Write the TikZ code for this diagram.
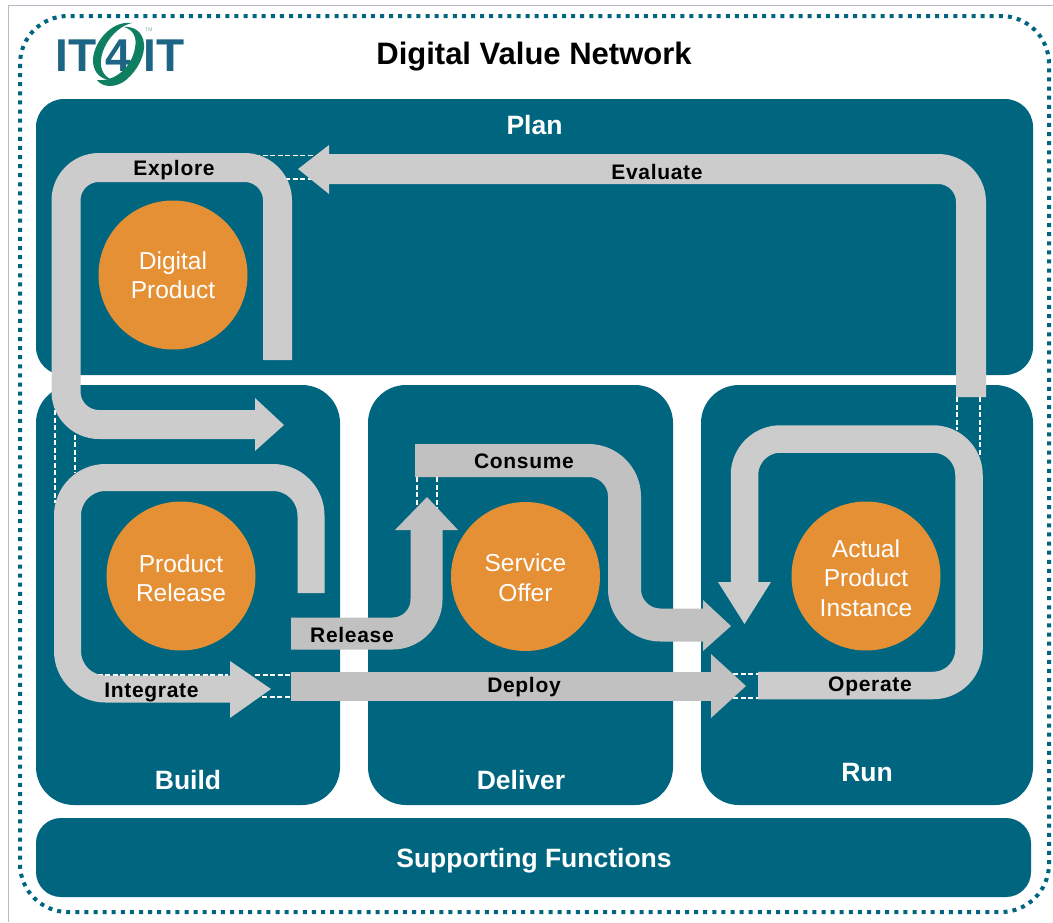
\documentclass[tikz,border=0pt]{standalone}
\usepackage{fontspec}
\setmainfont{Liberation Sans}
\newfontfamily\trackedbold[LetterSpace=3.3]{Liberation Sans Bold}
\newcommand{\lowerby}[2]{\raisebox{-#1}[\height][\depth]{#2}}
\definecolor{teal}{HTML}{00667F}
\definecolor{orng}{HTML}{E59035}
\definecolor{lgray}{HTML}{CCCCCC}
\definecolor{mgray}{HTML}{C1C1C1}
\definecolor{lgreen}{HTML}{0F7F62}
\definecolor{lblue}{HTML}{1C6585}
\definecolor{frame}{HTML}{B9B9C6}
\tikzset{
 panel/.style={fill=teal,draw=none},
 disc/.style={circle,fill=orng,draw=none,minimum size=149pt,inner sep=0pt,text=white,align=center,font=\fontsize{24.5}{29.5}\selectfont},
 band/.style={draw=#1,line join=round},
 head/.style={fill=#1,draw=none},
 flowlabel/.style={font=\fontsize{21}{25}\trackedbold\selectfont,text=black,inner sep=0pt},
 paneltitle/.style={font=\fontsize{26.5}{32}\selectfont\bfseries,text=white,inner sep=0pt},
 whitedash/.style={draw=white,line width=1.2pt,dash pattern=on 5pt off 2.5pt},
}
\begin{document}
\begin{tikzpicture}[x=1pt,y=-1pt]
\useasboundingbox (0,0) rectangle (1053,922);
\fill[white] (0,0) rectangle (1053,922);
\draw[frame,line width=1pt] (8,922) -- (8,5) -- (1053,5);
\draw[teal,line width=4pt,dash pattern=on 4pt off 5.1pt,rounded corners=48pt] (20,16) rectangle (1049,912);
% logo
\node[inner sep=0pt,text=lblue,font=\fontsize{46}{46}\selectfont\bfseries] (logoa) at (76,55.5) {IT};
\node[inner sep=0pt,text=lblue,font=\fontsize{46}{46}\selectfont\bfseries] (logob) at (164,55.5) {IT};
\node[inner sep=0pt,text=lblue,font=\fontsize{46}{46}\selectfont\bfseries] (logoc) at (118,55.5) {4};
\fill[lgreen] (132,23) .. controls (110,20) and (92,45) .. (93,62) .. controls (94,74) and (102,80) .. (112,80) .. controls (104,76) and (100,70) .. (101,60) .. controls (103,42) and (118,26) .. (132,23) -- cycle;
\fill[lgreen] (124,27) .. controls (134,30) and (137,38) .. (135,48) .. controls (132,66) and (116,82) .. (97,80) .. controls (103,88) and (116,88) .. (126,80) .. controls (138,70) and (145,55) .. (144,44) .. controls (143,32) and (134,26) .. (124,27) -- cycle;
\node[inner sep=0pt,text=lgreen!60,font=\fontsize{5}{5}\selectfont] (logod) at (149,30) {TM};
\node[inner sep=0pt,font=\fontsize{31}{37}\selectfont\bfseries] (title) at (534,57) {Digital Value Network};
% panels
\fill[panel,rounded corners=28pt] (36,99) rectangle (1033,375);
\fill[panel,rounded corners=38pt] (36,385) rectangle (340,805);
\fill[panel,rounded corners=38pt] (368,385) rectangle (673,805);
\fill[panel,rounded corners=38pt] (701,385) rectangle (1033,805);
\fill[panel,rounded corners=25pt] (36,818) rectangle (1031,897);
\node[paneltitle] (plan) at (534.5,125) {Plan};
\node[paneltitle] (build) at (188,780) {Build};
\node[paneltitle] (deliver) at (521,780) {Deliver};
\node[paneltitle] (run) at (867,773) {Run};
\node[paneltitle] (sup) at (534,860.5) {Supporting Functions};
% dashed
\draw[whitedash] (255,155.5) -- (315,155.5);
\draw[whitedash] (285,179) -- (312,179);
\draw[whitedash] (55,395) -- (55,503);
\draw[whitedash] (75,427) -- (75,473);
\draw[whitedash] (90,675) -- (228,675);
\draw[whitedash] (255,675) -- (291,675);
\draw[whitedash] (262,697) -- (291,697);
\draw[whitedash] (417,477) -- (417,507);
\draw[whitedash] (437,477) -- (437,510);
\draw[whitedash] (957,397) -- (957,430);
\draw[whitedash] (980,397) -- (980,457);
\draw[whitedash] (733,674) -- (758,674);
\draw[whitedash] (733,698) -- (758,698);
% discs
\node[disc] (dp) at (173,275) {Digital\\Product};
\node[disc] (pr) at (181,576) {\lowerby{2pt}{Product}\\\lowerby{2pt}{Release}};
\node[disc] (so) at (525.5,576.5) {\lowerby{1pt}{Service}\\\lowerby{1pt}{Offer}};
\node[disc] (api) at (866,576) {\lowerby{2.5pt}{Actual}\\\lowerby{2pt}{Product}\\\lowerby{2pt}{Instance}};
% Evaluate
\draw[band=lgray,line width=30pt,rounded corners=33pt] (971,397) -- (971,169) -- (325,169);
\fill[head=lgray] (329,145) -- (298,169) -- (329,194) -- cycle;
% Explore
\draw[band=lgray,line width=29pt,rounded corners=33pt] (277.5,360) -- (277.5,167.5) -- (66,167.5) -- (66,424.5) -- (258,424.5);
\fill[head=lgray] (255,398) -- (284,425) -- (255,451) -- cycle;
% Integrate
\draw[band=lgray,line width=27pt,rounded corners=38pt] (311,593) -- (311,477.5) -- (67.5,477.5) -- (67.5,689) -- (233,689);
\fill[head=lgray] (230,661) -- (271,689) -- (230,718) -- cycle;
% Operate
\draw[band=lgray,line width=27.5pt,rounded corners=36pt] (758,685.5) -- (969,685.5) -- (969,439) -- (744.5,439) -- (744.5,585);
\fill[head=lgray] (718,582) -- (744.5,624) -- (771,582) -- cycle;
% Release
\draw[band=mgray,line width=32pt,rounded corners=34pt] (291,633.5) -- (426.5,633.5) -- (426.5,527);
\fill[head=mgray] (395,530) -- (427,497) -- (458,530) -- cycle;
% Consume
\draw[band=mgray,line width=33pt,rounded corners=36pt] (415,460.5) -- (624.5,460.5) -- (624.5,625) -- (706,625);
\fill[head=mgray] (703,600) -- (731,626) -- (703,651) -- cycle;
% Deploy
\draw[band=mgray,line width=29pt] (291,686) -- (714,686);
\fill[head=mgray] (711,654) -- (746,686) -- (711,718) -- cycle;
% labels
\node[flowlabel] (l1) at (174,170) {Explore};
\node[flowlabel] (l2) at (657,172) {Evaluate};
\node[flowlabel] (l3) at (524,461) {Consume};
\node[flowlabel] (l4) at (352,634.5) {Release};
\node[flowlabel] (l5) at (151.5,692) {Integrate};
\node[flowlabel] (l6) at (524,687.5) {Deploy};
\node[flowlabel] (l7) at (870,686.5) {Operate};
\end{tikzpicture}
\end{document}
